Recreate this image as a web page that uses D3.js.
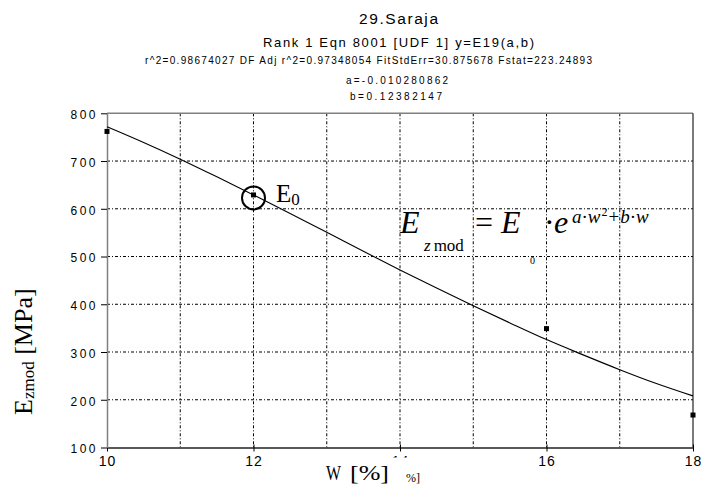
<!DOCTYPE html>
<html>
<head>
<meta charset="utf-8">
<script src="https://cdn.jsdelivr.net/npm/d3@7"></script>
<style>
  body { margin: 0; background: #fff; }
  svg { display: block; }
</style>
</head>
<body>
<div id="chart"></div>
<script>
// ---------- DATA ----------
// measured points
var pointW = [10, 12, 16, 18];
var pointE = [762, 629, 349, 168];

// fitted curve
var curveW = [10, 10.5, 11, 11.5, 12, 12.5, 13, 13.5, 14, 14.5, 15, 15.5, 16, 16.5, 17, 17.5, 18];
var curveE = [772, 739, 704, 667, 629, 590, 551, 511, 472, 434, 397, 361, 326, 294, 263, 234, 208];

var xTicks = [10, 12, 14, 16, 18];
var xGrid = [11, 12, 13, 14, 15, 16, 17];
var yTicks = [100, 200, 300, 400, 500, 600, 700, 800];
var yGrid = [200, 300, 400, 500, 600, 700];

var titleLines = [
    "29.Saraja",
    "Rank 1  Eqn 8001  [UDF 1] y=E19(a,b)",
    "r^2=0.98674027  DF Adj r^2=0.97348054  FitStdErr=30.875678  Fstat=223.24893",
    "a=-0.010280862",
    "b=0.12382147"
];

// ---------- SVG ----------
var svgWidth = 703;
var svgHeight = 486;

var chartMargin = {
    top: 113.3,
    right: 10,
    bottom: 38.5,
    left: 107
};

var chartWidth = svgWidth - chartMargin.left - chartMargin.right;
var chartHeight = svgHeight - chartMargin.top - chartMargin.bottom;

var svg = d3.select('#chart')
    .append('svg')
    .attr('width', svgWidth)
    .attr('height', svgHeight);

// title block
var titleStyle = [
    { x: 359, y: 24, size: 15.5, len: 79 },
    { x: 263, y: 46.7, size: 13, len: 271 },
    { x: 145, y: 64.3, size: 10, len: 447 },
    { x: 346, y: 84.3, size: 10, len: 102 },
    { x: 350, y: 100.3, size: 10, len: 92 }
];
svg.selectAll('text.title')
    .data(titleLines)
    .enter()
    .append('text')
    .attr('class', 'title')
    .attr('x', (d, i) => titleStyle[i].x)
    .attr('y', (d, i) => titleStyle[i].y)
    .attr('textLength', (d, i) => titleStyle[i].len)
    .attr('lengthAdjust', 'spacing')
    .style('font-family', 'Liberation Sans, Arial, sans-serif')
    .style('font-size', (d, i) => titleStyle[i].size + 'px')
    .text(d => d);

var chartGroup = svg.append('g')
    .attr('transform', `translate(${chartMargin.left}, ${chartMargin.top})`);

var xScale = d3.scaleLinear()
    .domain([10, 18])
    .range([0, chartWidth]);
var yScale = d3.scaleLinear()
    .domain([100, 800])
    .range([chartHeight, 0]);

// gridlines
chartGroup.selectAll('line.vgrid')
    .data(xGrid)
    .enter()
    .append('line')
    .attr('x1', d => xScale(d))
    .attr('x2', d => xScale(d))
    .attr('y1', 0)
    .attr('y2', chartHeight)
    .attr('stroke', '#000')
    .attr('stroke-width', 1)
    .attr('stroke-dasharray', '3,2,1,2');
chartGroup.selectAll('line.hgrid')
    .data(yGrid)
    .enter()
    .append('line')
    .attr('x1', 0)
    .attr('x2', chartWidth)
    .attr('y1', d => yScale(d))
    .attr('y2', d => yScale(d))
    .attr('stroke', '#000')
    .attr('stroke-width', 1)
    .attr('stroke-dasharray', '3,2,1,2');

// frame: top and right
chartGroup.append('line')
    .attr('x1', 0).attr('x2', chartWidth)
    .attr('y1', 0).attr('y2', 0)
    .attr('stroke', '#808080').attr('stroke-width', 1.5);
chartGroup.append('line')
    .attr('x1', chartWidth).attr('x2', chartWidth)
    .attr('y1', 0).attr('y2', chartHeight)
    .attr('stroke', '#222').attr('stroke-width', 1.2);

// axes
var bottomAxis = d3.axisBottom(xScale)
    .tickValues(xTicks)
    .tickSizeInner(4)
    .tickSizeOuter(0)
    .tickPadding(5);
var leftAxis = d3.axisLeft(yScale)
    .tickValues(yTicks)
    .tickSizeInner(6)
    .tickSizeOuter(0)
    .tickPadding(3);

var xAxisG = chartGroup.append('g')
    .attr('transform', `translate(0, ${chartHeight})`)
    .call(bottomAxis);
xAxisG.select('.domain').attr('stroke', '#222').attr('stroke-width', 1.5);
xAxisG.selectAll('.tick line').attr('stroke', '#000').attr('y1', -3);
xAxisG.selectAll('text')
    .attr('fill', '#000')
    .style('font-family', 'Liberation Sans, Arial, sans-serif')
    .style('font-size', '14px')
    .style('letter-spacing', '1px');

var yAxisG = chartGroup.append('g')
    .call(leftAxis);
yAxisG.select('.domain').attr('stroke', '#808080').attr('stroke-width', 1.5);
yAxisG.selectAll('.tick line').attr('stroke', '#000');
yAxisG.selectAll('text')
    .attr('fill', '#000')
    .attr('dy', '0.45em')
    .style('font-family', 'Liberation Sans, Arial, sans-serif')
    .style('font-size', '12px')
    .style('letter-spacing', '2.5px');

// fitted curve
var curveData = curveW.map((w, i) => ({ w: w, e: curveE[i] }));
var line = d3.line()
    .x(d => xScale(d.w))
    .y(d => yScale(d.e))
    .curve(d3.curveMonotoneX);
chartGroup.append('path')
    .datum(curveData)
    .attr('d', line)
    .attr('fill', 'none')
    .attr('stroke', '#000')
    .attr('stroke-width', 1.1);

// data points
var pointData = pointW.map((w, i) => ({ w: w, e: pointE[i] }));
chartGroup.selectAll('rect.pt')
    .data(pointData)
    .enter()
    .append('rect')
    .attr('class', 'pt')
    .attr('x', d => xScale(d.w) - 2.5)
    .attr('y', d => yScale(d.e) - 2.5)
    .attr('width', 5)
    .attr('height', 5)
    .attr('fill', '#000');

// circle marking E0
chartGroup.append('circle')
    .attr('cx', xScale(pointW[1]))
    .attr('cy', yScale(pointE[1]) + 3)
    .attr('r', 11.5)
    .attr('fill', 'none')
    .attr('stroke', '#000')
    .attr('stroke-width', 2);

var serif = 'Liberation Serif, Times New Roman, serif';

// E0 label
var e0 = svg.append('text')
    .attr('x', 276)
    .attr('y', 201.5)
    .style('font-family', serif)
    .style('font-size', '25px');
e0.append('tspan').text('E');
e0.append('tspan').attr('dy', 3).style('font-size', '17px').text('0');

// equation
var eq = svg.append('g').style('font-family', serif);
eq.append('text').attr('x', 400).attr('y', 233.3)
    .style('font-size', '32px').style('font-style', 'italic').text('E');
var sub = eq.append('text').attr('x', 424).attr('y', 251).style('font-size', '17px');
sub.append('tspan').style('font-style', 'italic').text('z');
sub.append('tspan').attr('dx', 3).text('mod');
eq.append('text').attr('x', 475).attr('y', 233.3)
    .style('font-size', '32px').text('=');
eq.append('text').attr('x', 501).attr('y', 233.3)
    .style('font-size', '32px').style('font-style', 'italic').text('E');
eq.append('text').attr('x', 530).attr('y', 264)
    .style('font-size', '10px').text('0');
eq.append('text').attr('x', 544).attr('y', 233.3)
    .style('font-size', '32px').text('\u00b7');
eq.append('text').attr('x', 554).attr('y', 233.3)
    .style('font-size', '32px').style('font-style', 'italic').text('e');
var sup = eq.append('text').attr('x', 572).attr('y', 223).style('font-size', '19px');
sup.append('tspan').style('font-style', 'italic').text('a');
sup.append('tspan').text('\u00b7');
sup.append('tspan').style('font-style', 'italic').text('w');
sup.append('tspan').attr('dy', -7).attr('dx', 1).style('font-size', '12px').text('2');
sup.append('tspan').attr('dy', 7).attr('dx', 1).text('+');
sup.append('tspan').attr('dx', 1).style('font-style', 'italic').text('b');
sup.append('tspan').text('\u00b7');
sup.append('tspan').style('font-style', 'italic').text('w');

// y axis title
var yTitle = svg.append('text')
    .attr('transform', 'translate(31.7, 415) rotate(-90)')
    .style('font-family', serif)
    .style('font-size', '26px');
yTitle.append('tspan').text('E');
yTitle.append('tspan').attr('dy', 2).style('font-size', '17px').text('zmod');
yTitle.append('tspan').attr('dy', -2).text(' [MPa]');

// x axis title, covering most of the "14" label like the original
svg.append('rect')
    .attr('x', 380).attr('y', 457.5)
    .attr('width', 34).attr('height', 12)
    .attr('fill', '#fff');
svg.append('text')
    .attr('x', 326)
    .attr('y', 480)
    .attr('textLength', 15)
    .attr('lengthAdjust', 'spacingAndGlyphs')
    .style('font-family', serif)
    .style('font-size', '22px')
    .text('W');
svg.append('text')
    .attr('x', 350)
    .attr('y', 480)
    .attr('textLength', 39)
    .attr('lengthAdjust', 'spacingAndGlyphs')
    .style('font-family', serif)
    .style('font-size', '22px')
    .text('[%]');
svg.append('text')
    .attr('x', 406)
    .attr('y', 482)
    .style('font-family', serif)
    .style('font-size', '12px')
    .text('%]');
</script>
</body>
</html>
